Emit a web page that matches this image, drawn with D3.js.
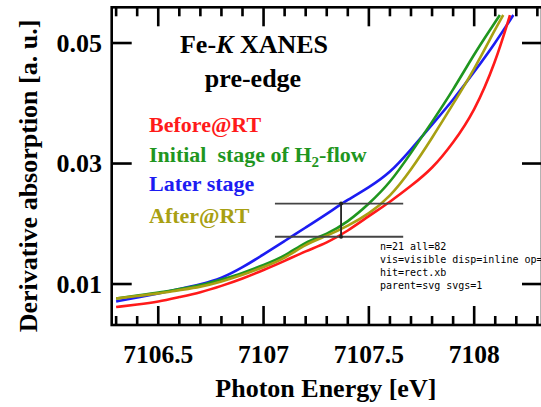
<!DOCTYPE html>
<html>
<head>
<meta charset="utf-8">
<script src="https://cdn.jsdelivr.net/npm/d3@7"></script>
<style>
  body { margin: 0; background: #fff; }
  text { font-family: "Liberation Serif", "Times New Roman", serif; font-weight: bold; }
</style>
</head>
<body>
<svg id="chart" width="541" height="407"></svg>
<script>
// energy grid [eV] shared by the curves, each curve has its own last point
var energy = [7106.3, 7106.4, 7106.5, 7106.6, 7106.7, 7106.8, 7106.9, 7107.0, 7107.1,
              7107.2, 7107.3, 7107.4, 7107.5, 7107.6, 7107.7, 7107.8, 7107.9, 7108.0];

var beforeRT = [0.00618, 0.0066, 0.00706, 0.00784, 0.00859, 0.00967, 0.01088, 0.01232, 0.01382,
                0.01548, 0.0168, 0.0188, 0.02129, 0.02361, 0.02627, 0.02909, 0.0334, 0.03855];
var beforeEnd = [[7108.1, 0.04668], [7108.17, 0.05465]];

var initialStage = [0.00759, 0.00809, 0.00856, 0.00917, 0.00975, 0.01075, 0.01178, 0.01315, 0.01456,
                    0.01705, 0.01823, 0.02029, 0.02328, 0.02676, 0.03174, 0.03689, 0.0422, 0.04817];
var initialEnd = [[7108.075, 0.05216], [7108.122, 0.05465]];

var laterStage = [0.0071, 0.00776, 0.00842, 0.00917, 0.00992, 0.01091, 0.01274, 0.0149, 0.01714,
                  0.01938, 0.02162, 0.02402, 0.02602, 0.02842, 0.03232, 0.03647, 0.04054, 0.04519];
var laterEnd = [[7108.1, 0.05], [7108.186, 0.05465]];

var afterRT = [0.00759, 0.00801, 0.00842, 0.009, 0.0095, 0.01041, 0.01149, 0.01282, 0.01423,
               0.01664, 0.01797, 0.01963, 0.02162, 0.02444, 0.02892, 0.03423, 0.03988, 0.0456];
var afterEnd = [[7108.1, 0.05232], [7108.138, 0.05465]];

var xMajor = [7106.5, 7107, 7107.5, 7108];
var xLabels = ["7106.5", "7107", "7107.5", "7108"];
var xMinor = [7106.3, 7106.4, 7106.6, 7106.7, 7106.8, 7106.9, 7107.1, 7107.2, 7107.3,
              7107.4, 7107.6, 7107.7, 7107.8, 7107.9, 7108.1, 7108.2, 7108.3];
var yMajor = [0.01, 0.03, 0.05];
var yLabels = ["0.01", "0.03", "0.05"];

// the bracket drawn between the curves
var bracketX = [7107.054, 7107.663];
var bracketLevels = [0.02336, 0.01785];
var bracketAt = 7107.368;

var series = [
  {name: "Before@RT", values: beforeRT, tail: beforeEnd, color: "#ff1a1a"},
  {name: "Initial  stage of H", values: initialStage, tail: initialEnd, color: "#1f961f"},
  {name: "Later stage", values: laterStage, tail: laterEnd, color: "#1c1cf2"},
  {name: "After@RT", values: afterRT, tail: afterEnd, color: "#a8a012"}
];

var svg = d3.select("#chart");
var pLeft = 111.7, pRight = 542, pTop = 7.3, pBottom = 325;

var x = d3.scaleLinear().domain([7106.279, 7108.322]).range([pLeft, pRight]);
var y = d3.scaleLinear().domain([0.0032, 0.05593]).range([pBottom, pTop]);

// frame and inward ticks first
svg.append("rect")
    .attr("x", pLeft).attr("y", pTop)
    .attr("width", pRight - pLeft).attr("height", pBottom - pTop)
    .attr("fill", "none").attr("stroke", "#000").attr("stroke-width", 2.6);

var xTicks = xMajor.map(function(v) { return {v: v, len: 19}; })
    .concat(xMinor.map(function(v) { return {v: v, len: 9}; }));
var tw = 2.6;

svg.selectAll("rect.xb")
    .data(xTicks)
    .enter().append("rect")
    .attr("class", "xb")
    .attr("x", function(d) { return x(d.v) - tw / 2; })
    .attr("y", function(d) { return pBottom - d.len; })
    .attr("width", tw)
    .attr("height", function(d) { return d.len; })
    .attr("fill", "#000");

svg.selectAll("rect.xt")
    .data(xTicks)
    .enter().append("rect")
    .attr("class", "xt")
    .attr("x", function(d) { return x(d.v) - tw / 2; })
    .attr("y", pTop)
    .attr("width", tw)
    .attr("height", function(d) { return d.len; })
    .attr("fill", "#000");

svg.selectAll("rect.yt")
    .data(yMajor.map(function(v) { return [pLeft, v]; }).concat(yMajor.map(function(v) { return [pRight - 20, v]; })))
    .enter().append("rect")
    .attr("class", "yt")
    .attr("x", function(d) { return d[0]; })
    .attr("y", function(d) { return y(d[1]) - tw / 2; })
    .attr("width", 20)
    .attr("height", tw)
    .attr("fill", "#000");

var line = d3.line()
    .x(function(d) { return x(d[0]); })
    .y(function(d) { return y(d[1]); })
    .curve(d3.curveBasis);

// curves (red last so it sits on top at the bottom like the figure)
var order = [2, 1, 3, 0];
order.forEach(function(i) {
  var s = series[i];
  var pts = energy.map(function(e, j) { return [e, s.values[j]]; }).concat(s.tail);
  svg.append("path")
      .attr("class", "curve")
      .attr("d", line(pts))
      .attr("fill", "none")
      .attr("stroke", s.color)
      .attr("stroke-width", 2.6);
});

// bracket
svg.selectAll("line.hl")
    .data(bracketLevels)
    .enter().append("line")
    .attr("class", "hl")
    .attr("x1", x(bracketX[0])).attr("x2", x(bracketX[1]))
    .attr("y1", function(d) { return y(d); }).attr("y2", function(d) { return y(d); })
    .attr("stroke", "#444").attr("stroke-width", 1.8);
svg.append("line")
    .attr("x1", x(bracketAt)).attr("x2", x(bracketAt))
    .attr("y1", y(bracketLevels[0])).attr("y2", y(bracketLevels[1]))
    .attr("stroke", "#222").attr("stroke-width", 1.8);
svg.selectAll("circle.end")
    .data(bracketLevels)
    .enter().append("circle")
    .attr("class", "end")
    .attr("cx", x(bracketAt)).attr("cy", function(d) { return y(d); })
    .attr("r", 2).attr("fill", "#222");

// tick labels
svg.selectAll("text.xl")
    .data(xMajor)
    .enter().append("text")
    .attr("class", "xl")
    .attr("x", function(d) { return x(d); })
    .attr("y", 363)
    .attr("text-anchor", "middle")
    .style("font-size", "25.5px")
    .text(function(d, i) { return xLabels[i]; });

svg.selectAll("text.yl")
    .data(yMajor)
    .enter().append("text")
    .attr("class", "yl")
    .attr("x", 102)
    .attr("y", function(d) { return y(d) + 8.5; })
    .attr("text-anchor", "end")
    .style("font-size", "26px")
    .text(function(d, i) { return yLabels[i]; });

// axis titles
svg.append("text")
    .attr("x", (pLeft + pRight) / 2 - 1)
    .attr("y", 397)
    .attr("text-anchor", "middle")
    .style("font-size", "26px")
    .text("Photon Energy [eV]");

svg.append("text")
    .attr("transform", "translate(37,176) rotate(-90)")
    .attr("text-anchor", "middle")
    .style("font-size", "26px")
    .text("Derivative absorption [a. u.]");

// title block
var t1 = svg.append("text")
    .attr("x", 254).attr("y", 53)
    .attr("text-anchor", "middle")
    .style("font-size", "26px");
t1.append("tspan").text("Fe-");
t1.append("tspan").style("font-style", "italic").text("K");
t1.append("tspan").text(" XANES");

svg.append("text")
    .attr("x", 253).attr("y", 87)
    .attr("text-anchor", "middle")
    .style("font-size", "26px")
    .text("pre-edge");

// legend
var legendY = [132, 161.5, 190.5, 222.5];
series.forEach(function(s, i) {
  var t = svg.append("text")
      .attr("x", 149).attr("y", legendY[i])
      .attr("fill", s.color)
      .style("font-size", "22px")
      .style("white-space", "pre")
      .attr("xml:space", "preserve");
  t.append("tspan").text(s.name);
  if (i === 1) {
    t.append("tspan").attr("dy", 5).style("font-size", "15px").text("2");
    t.append("tspan").attr("dy", -5).text("-flow");
  }
});

// temporary check of the tick bars
var info = [];
var els = document.querySelectorAll("rect.xb");
info.push("n=" + els.length + " all=" + document.querySelectorAll("svg *").length);
if (els.length) {
  var cs = getComputedStyle(els[2]);
  info.push("vis=" + cs.visibility + " disp=" + cs.display + " op=" + cs.opacity + " fill=" + cs.fill);
  var hit = document.elementFromPoint(x(7106.5), 315);
  info.push("hit=" + (hit ? hit.tagName + "." + (hit.getAttribute("class") || "") : "none"));
  info.push("parent=" + els[2].parentNode.tagName + " svgs=" + document.querySelectorAll("svg").length);
}
info.forEach(function(s, i) {
  svg.append("text").attr("x", 380).attr("y", 250 + i * 13)
      .style("font-size", "10px").style("font-family", "DejaVu Sans Mono").style("font-weight", "normal")
      .text(s);
});
</script>
</body>
</html>
